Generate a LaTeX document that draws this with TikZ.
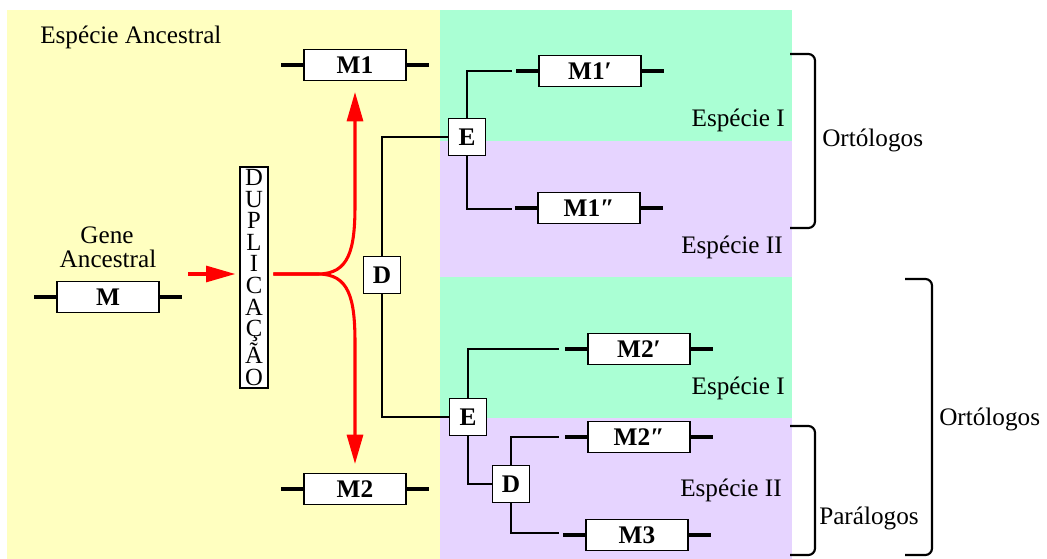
\documentclass[tikz,border=0pt]{standalone}
\usepackage{fontspec}
\setmainfont{Liberation Serif}
\usetikzlibrary{arrows.meta}
\definecolor{ylw}{RGB}{255,255,192}
\definecolor{grn}{RGB}{170,255,212}
\definecolor{prp}{RGB}{230,212,255}
\definecolor{rd}{RGB}{255,0,0}
\begin{document}
\begin{tikzpicture}[x=0.75pt,y=-0.75pt,
  gbox/.style={draw, line width=1pt, fill=white, minimum width=76.5pt, minimum height=23pt, inner sep=0pt, font=\bfseries\fontsize{19}{19}\selectfont},
  evbox/.style={draw, line width=1pt, fill=white, minimum width=27.5pt, minimum height=28pt, inner sep=0pt, font=\bfseries\fontsize{19}{19}\selectfont},
  stub/.style={line width=2.3pt},
  conn/.style={line width=1.5pt},
  redl/.style={draw=rd, line width=2.3pt},
  redarr/.style={redl, -{Triangle[length=22pt,width=12pt]}},
  lbl/.style={inner sep=0pt, font=\fontsize{18.9}{22}\selectfont},
  brace/.style={line width=1.6pt, rounded corners=5pt}
]
\useasboundingbox (0,0) rectangle (1047,559);
% backgrounds
\fill[ylw] (7,10) rectangle (440,559);
\fill[grn] (440,10) rectangle (792,141);
\fill[prp] (440,141) rectangle (792,277);
\fill[grn] (440,277) rectangle (792,418);
\fill[prp] (440,418) rectangle (792,559);

% labels
\node[lbl, anchor=base west] (anc) at (40,44) {Espécie Ancestral};
\node[lbl, anchor=base] (g1) at (107,244) {Gene};
\node[lbl, anchor=base] (g2) at (108,268) {Ancestral};
\node[lbl, anchor=base east] (s1) at (785,127) {Espécie I};
\node[lbl, anchor=base east] (s2) at (783,254) {Espécie II};
\node[lbl, anchor=base east] (s3) at (785,395) {Espécie I};
\node[lbl, anchor=base east] (s4) at (782,497) {Espécie II};
\node[lbl, anchor=base west] (o1) at (822,147) {Ortólogos};
\node[lbl, anchor=base west] (p1) at (819,525) {Parálogos};
\node[lbl, anchor=base west] (o2) at (939,426) {Ortólogos};

% gene boxes
\node[gbox] (M) at (108,297) {M};
\node[gbox] (M1) at (355,65) {M1};
\node[gbox] (M2) at (355,489) {M2};
\node[gbox] (M1p) at (590,71) {M1′};
\node[gbox] (M1pp) at (589,208) {M1″};
\node[gbox] (M2p) at (639,349) {M2′};
\node[gbox] (M2pp) at (639,437) {M2″};
\node[gbox] (M3) at (637,535) {M3};
\foreach \n in {M,M1,M2,M1p,M1pp,M2p,M2pp,M3}{
  \draw[stub] (\n.west) -- ++(-22,0);
  \draw[stub] (\n.east) -- ++(22,0);
}

% event boxes
\node[evbox] (D1) at (382,275) {D};
\node[evbox] (E1) at (467,137) {E};
\node[evbox] (E2) at (468,417) {E};
\node[evbox] (D2) at (511,484) {D};

% duplication box
\node[draw, line width=1pt, fill=white, minimum width=21pt, minimum height=165.75pt, inner sep=0pt, align=center, font=\fontsize{18.5}{16.2}\selectfont] (DUP) at (254,277.5) {D\\U\\P\\L\\I\\C\\A\\Ç\\Ã\\O};

% tree connectors
\coordinate (a1) at (512,71);
\coordinate (a2) at (512,209);
\coordinate (b1) at (559,349);
\coordinate (c1) at (559,437);
\coordinate (c2) at (559,533);
\draw[conn] (D1.north) |- (E1.west);
\draw[conn] (D1.south) |- (E2.west);
\draw[conn] (E1.north) |- (a1);
\draw[conn] (E1.south) |- (a2);
\draw[conn] (E2.north) |- (b1);
\draw[conn] (E2.south) |- (D2.west);
\draw[conn] (D2.north) |- (c1);
\draw[conn] (D2.south) |- (c2);

% red arrows
\coordinate (r0) at (188,274);
\coordinate (j) at (318,274);
\draw[redarr, shorten >=3pt] (r0) -- (DUP.west |- r0);
\draw[redarr, shorten <=3.5pt, shorten >=8.25pt] (DUP.east |- j) -- (j) .. controls (349,274) and (355,250) .. (355,205) -- (M1.south);
\draw[redarr, shorten <=3.5pt, shorten >=6.75pt] (DUP.east |- j) -- (j) .. controls (349,274) and (355,298) .. (355,343) -- (M2.north);

% brackets
\draw[brace] (790,54) -- (815,54) -- (815,228) -- (790,228);
\draw[brace] (790,426) -- (815,426) -- (815,555) -- (790,555);
\draw[brace] (905,279) -- (932,279) -- (932,555) -- (905,555);
\end{tikzpicture}
\end{document}
